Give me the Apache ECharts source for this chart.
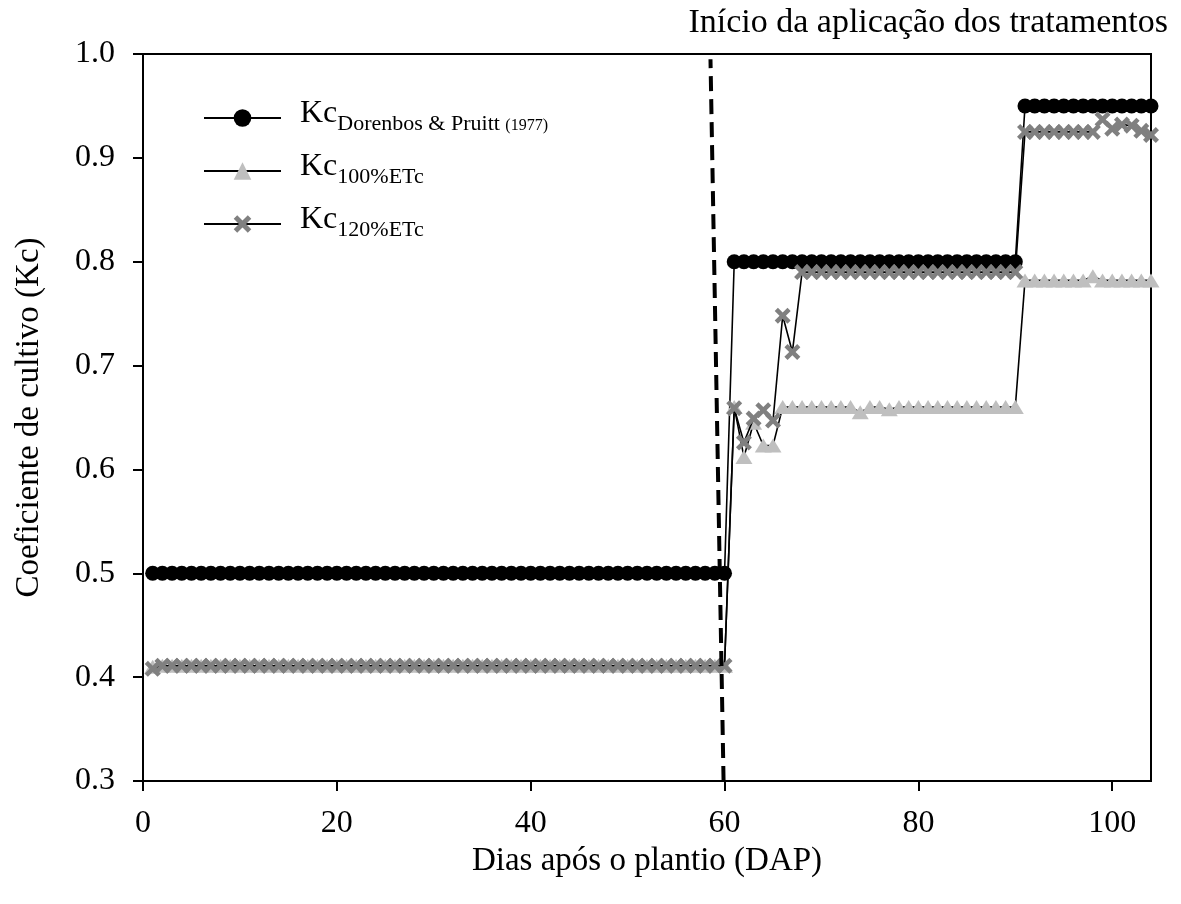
<!DOCTYPE html>
<html>
<head>
<meta charset="utf-8">
<script src="https://cdn.jsdelivr.net/npm/echarts@6/dist/echarts.min.js"></script>
<style>
html,body{margin:0;padding:0;background:#fff;}
#chart{width:1181px;height:904px;}
</style>
</head>
<body>
<div id="chart"></div>
<script>
// Days after planting (DAP)
const days = [1,2,3,4,5,6,7,8,9,10,11,12,13,14,15,16,17,18,19,20,
  21,22,23,24,25,26,27,28,29,30,31,32,33,34,35,36,37,38,39,40,
  41,42,43,44,45,46,47,48,49,50,51,52,53,54,55,56,57,58,59,60,
  61,62,63,64,65,66,67,68,69,70,71,72,73,74,75,76,77,78,79,80,
  81,82,83,84,85,86,87,88,89,90,91,92,93,94,95,96,97,98,99,100,
  101,102,103,104];

// Kc Dorenbos & Pruitt (1977)
const kcDorenbos = [0.5,0.5,0.5,0.5,0.5,0.5,0.5,0.5,0.5,0.5,0.5,0.5,0.5,0.5,0.5,0.5,0.5,0.5,0.5,0.5,
  0.5,0.5,0.5,0.5,0.5,0.5,0.5,0.5,0.5,0.5,0.5,0.5,0.5,0.5,0.5,0.5,0.5,0.5,0.5,0.5,
  0.5,0.5,0.5,0.5,0.5,0.5,0.5,0.5,0.5,0.5,0.5,0.5,0.5,0.5,0.5,0.5,0.5,0.5,0.5,0.5,
  0.8,0.8,0.8,0.8,0.8,0.8,0.8,0.8,0.8,0.8,0.8,0.8,0.8,0.8,0.8,0.8,0.8,0.8,0.8,0.8,
  0.8,0.8,0.8,0.8,0.8,0.8,0.8,0.8,0.8,0.8,0.95,0.95,0.95,0.95,0.95,0.95,0.95,0.95,0.95,0.95,
  0.95,0.95,0.95,0.95];

// Kc 100% ETc
const kc100 = [0.41,0.411,0.411,0.411,0.411,0.411,0.411,0.411,0.411,0.411,0.411,0.411,0.411,0.411,0.411,0.411,0.411,0.411,0.411,0.411,
  0.411,0.411,0.411,0.411,0.411,0.411,0.411,0.411,0.411,0.411,0.411,0.411,0.411,0.411,0.411,0.411,0.411,0.411,0.411,0.411,
  0.411,0.411,0.411,0.411,0.411,0.411,0.411,0.411,0.411,0.411,0.411,0.411,0.411,0.411,0.411,0.411,0.411,0.411,0.411,0.411,
  0.66,0.612,0.645,0.623,0.623,0.66,0.66,0.66,0.66,0.66,0.66,0.66,0.66,0.655,0.66,0.66,0.658,0.66,0.66,0.66,
  0.66,0.66,0.66,0.66,0.66,0.66,0.66,0.66,0.66,0.66,0.782,0.782,0.782,0.782,0.782,0.782,0.782,0.786,0.782,0.782,
  0.782,0.782,0.782,0.782];

// Kc 120% ETc
const kc120 = [0.408,0.411,0.411,0.411,0.411,0.411,0.411,0.411,0.411,0.411,0.411,0.411,0.411,0.411,0.411,0.411,0.411,0.411,0.411,0.411,
  0.411,0.411,0.411,0.411,0.411,0.411,0.411,0.411,0.411,0.411,0.411,0.411,0.411,0.411,0.411,0.411,0.411,0.411,0.411,0.411,
  0.411,0.411,0.411,0.411,0.411,0.411,0.411,0.411,0.411,0.411,0.411,0.411,0.411,0.411,0.411,0.411,0.411,0.411,0.411,0.411,
  0.659,0.626,0.649,0.657,0.647,0.748,0.713,0.79,0.79,0.79,0.79,0.79,0.79,0.79,0.79,0.79,0.79,0.79,0.79,0.79,
  0.79,0.79,0.79,0.79,0.79,0.79,0.79,0.79,0.79,0.79,0.925,0.925,0.925,0.925,0.925,0.925,0.925,0.925,0.937,0.928,
  0.932,0.931,0.926,0.922];

// Dashed marker line (start of treatments): [day, Kc] endpoints
const treatLineX = [59.9, 58.55];
const treatLineY = [0.3, 0.995];

const xTicks = {min: 0, max: 104, interval: 20};
const yTicks = {min: 0.3, max: 1.0, interval: 0.1};

const seriesNames = ['dp', 'e100', 'e120'];
const legendLabels = {
  dp: '{m|Kc}{s|Dorenbos & Pruitt }{t|(1977)}',
  e100: '{m|Kc}{s|100%ETc}',
  e120: '{m|Kc}{s|120%ETc}'
};
const titleText = 'Início da aplicação dos tratamentos';
const xName = 'Dias após o plantio (DAP)';
const yName = 'Coeficiente de cultivo (Kc)';

const FONT = '"Liberation Serif", "Times New Roman", serif';
const pair = (xs, ys) => xs.map((x, i) => [x, ys[i]]);
const xShape = 'path://M0,2L2,0L5,3L8,0L10,2L7,5L10,8L8,10L5,7L2,10L0,8L3,5Z';

const legendRich = {
  m: {fontFamily: FONT, fontSize: 32, color: '#000', padding: [0, 0, 8, 0]},
  s: {fontFamily: FONT, fontSize: 22, color: '#000', padding: [12, 0, 0, 0]},
  t: {fontFamily: FONT, fontSize: 16, color: '#000', padding: [16, 0, 0, 0]}
};
const legendTops = [98, 151, 204];

function makeLegend(name, top) {
  return {
    data: [name],
    orient: 'vertical',
    left: 203, top: top,
    itemWidth: 77, itemHeight: 22,
    selectedMode: false,
    padding: 0,
    formatter: n => legendLabels[n],
    textStyle: {fontFamily: FONT, color: '#000', padding: [0, 0, 0, 14], rich: legendRich}
  };
}

const chart = echarts.init(document.getElementById('chart'), null, {renderer: 'canvas'});
chart.setOption({
  animation: false,
  backgroundColor: '#fff',
  textStyle: {fontFamily: FONT, color: '#000'},
  grid: {left: 143, right: 30, top: 54, bottom: 123, show: true, borderColor: '#000', borderWidth: 2, containLabel: false},
  graphic: [{
    type: 'text', x: 1168, y: 23,
    style: {text: titleText, fontFamily: FONT, fontSize: 34, fill: '#000', align: 'right', verticalAlign: 'middle'}
  }],
  legend: seriesNames.map((n, i) => makeLegend(n, legendTops[i])),
  xAxis: {
    type: 'value', min: xTicks.min, max: xTicks.max, interval: xTicks.interval,
    name: xName, nameLocation: 'middle', nameGap: 58,
    nameTextStyle: {fontFamily: FONT, fontSize: 33, color: '#000'},
    axisLine: {lineStyle: {color: '#000', width: 2}},
    axisTick: {show: true, inside: false, length: 10, lineStyle: {color: '#000', width: 2}},
    axisLabel: {fontFamily: FONT, fontSize: 32, color: '#000', margin: 27, showMaxLabel: false},
    splitLine: {show: false}
  },
  yAxis: {
    type: 'value', min: yTicks.min, max: yTicks.max, interval: yTicks.interval,
    name: yName, nameLocation: 'middle', nameGap: 97,
    nameTextStyle: {fontFamily: FONT, fontSize: 33, color: '#000'},
    axisLine: {lineStyle: {color: '#000', width: 2}},
    axisTick: {show: true, inside: false, length: 10, lineStyle: {color: '#000', width: 2}},
    axisLabel: {fontFamily: FONT, fontSize: 32, color: '#000', margin: 28, formatter: v => v.toFixed(1)},
    splitLine: {show: false}
  },
  series: [
    {
      name: 'dp', type: 'line', data: pair(days, kcDorenbos),
      symbol: 'circle', symbolSize: 15, showAllSymbol: true,
      itemStyle: {color: '#000'},
      lineStyle: {color: '#000', width: 1.6},
      z: 3
    },
    {
      name: 'e100', type: 'line', data: pair(days, kc100),
      symbol: 'triangle', symbolSize: [17, 14], showAllSymbol: true,
      itemStyle: {color: '#bfbfbf'},
      lineStyle: {color: '#000', width: 1.6},
      z: 4
    },
    {
      name: 'e120', type: 'line', data: pair(days, kc120),
      symbol: xShape, symbolSize: 16, showAllSymbol: true,
      itemStyle: {color: '#808080'},
      lineStyle: {color: '#000', width: 1.6},
      z: 5
    },
    {
      name: 'inicio', type: 'line', data: pair(treatLineX, treatLineY),
      symbol: 'none',
      lineStyle: {color: '#000', width: 4, type: [15, 8]},
      z: 6, silent: true
    }
  ]
});
</script>
</body>
</html>
